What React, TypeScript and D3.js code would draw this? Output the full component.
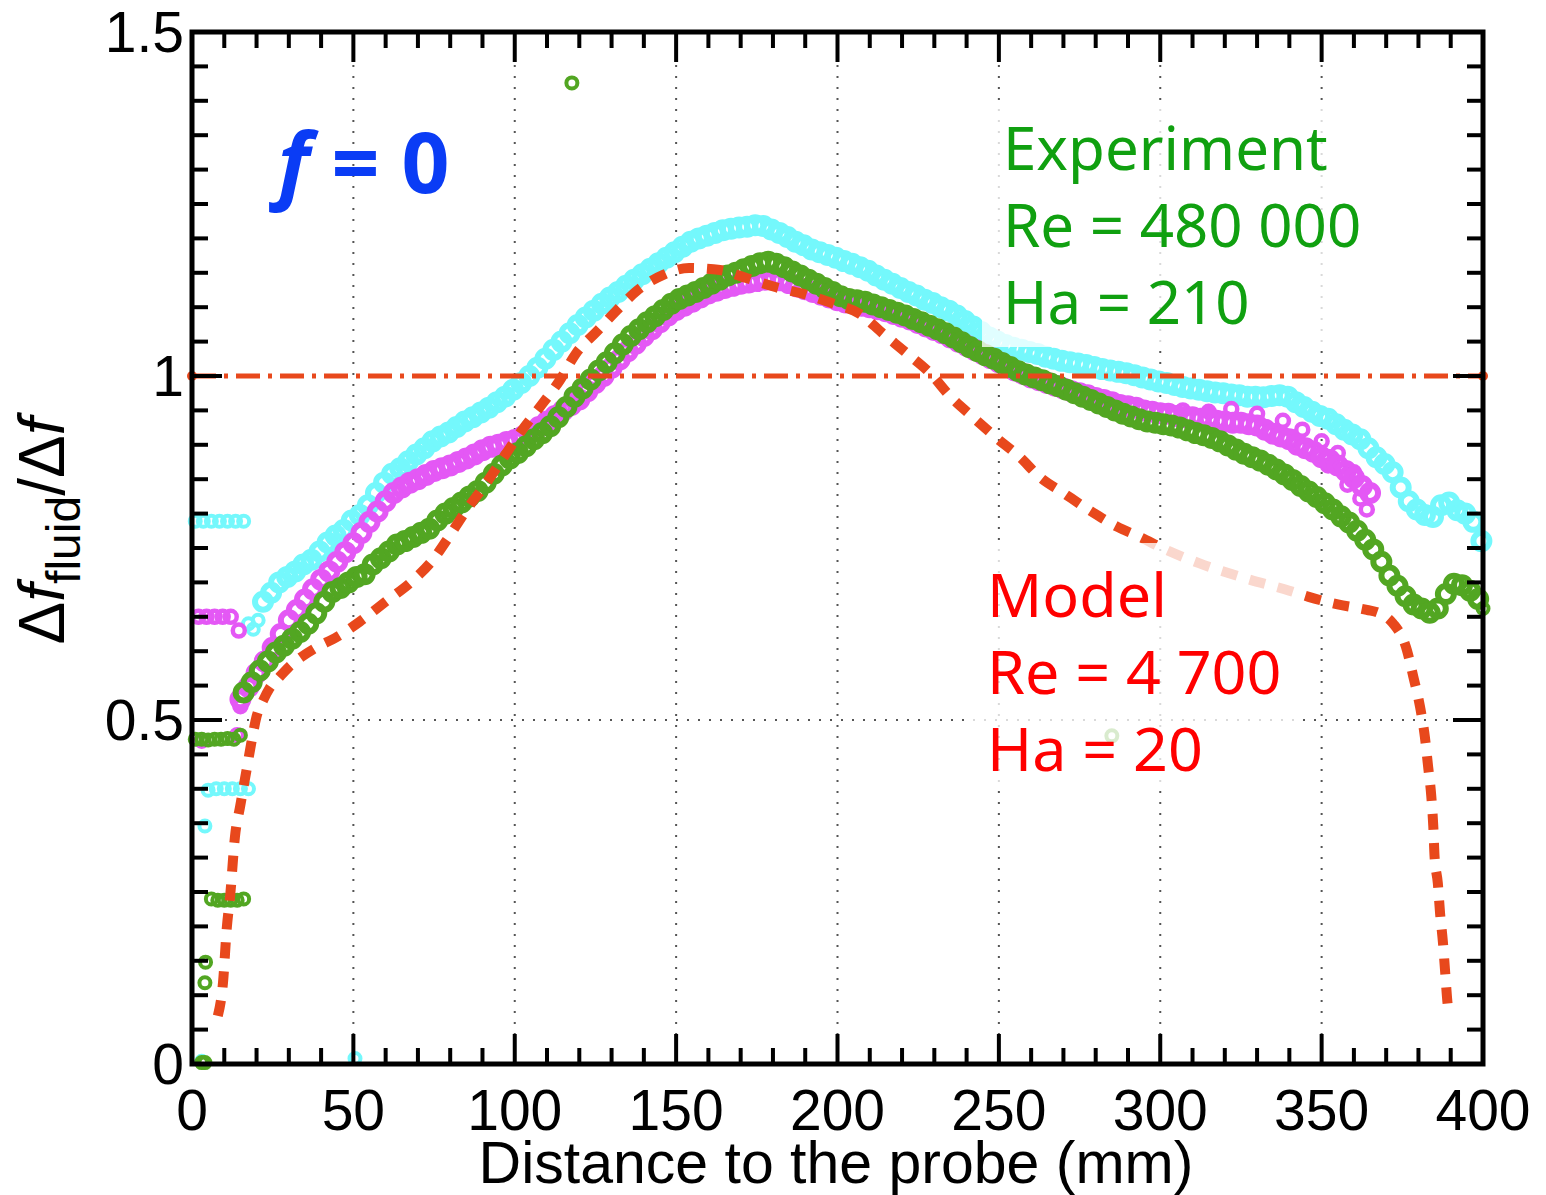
import React from 'react';
import * as d3 from 'd3';

// ---------- data ----------
const xTicks = [0, 50, 100, 150, 200, 250, 300, 350, 400];
const yTicks = [0, 0.5, 1, 1.5];
const yTickLabels = ['0', '0.5', '1', '1.5'];

const STEP = 2.5;
const greenStart = 16;
const greenValues = [
  .540,.555,.572,.585,.598,.608,.618,.628,.640,.655,.672,.686,.692,.700,.708,.712,.726,.735,.745,.755,
  .760,.766,.772,.778,.790,.800,.808,.816,.825,.833,.845,.858,.870,.880,.888,.898,.908,.917,.927,.940,
  .955,.970,.982,.995,1.008,1.020,1.033,1.046,1.058,1.068,1.078,1.087,1.096,1.105,1.112,1.117,1.122,1.128,
  1.134,1.140,1.146,1.150,1.155,1.160,1.164,1.166,1.163,1.158,1.152,1.146,1.140,1.134,1.128,1.122,1.116,
  1.112,1.110,1.108,1.104,1.100,1.096,1.092,1.088,1.083,1.078,1.073,1.068,1.062,1.056,1.049,1.042,1.036,
  1.030,1.025,1.019,1.013,1.007,1.002,.998,.994,.989,.985,.980,.975,.970,.965,.960,.955,.950,.945,.941,
  .937,.934,.932,.930,.928,.925,.921,.917,.914,.910,.905,.899,.893,.887,.882,.877,.871,.864,.857,.849,
  .840,.832,.824,.815,.806,.796,.787,.775,.762,.748,.730,.710,.695,.680,.668,.662,.656,.662,.683,.698,
  .696,.688,.676
];
const greenExtra: [number, number][] = [
  [400, .662], [117.7, 1.426],
  [1, .472], [3, .472], [5, .471], [7, .472], [9, .472], [11, .473], [13, .472], [15, .478],
  [6, .240], [8, .238], [10, .238], [12, .238], [14, .238], [16, .240],
  [4.2, .148], [4, .118], [3, .002], [4, .002],
  [285, .477]
];

const cyanStart = 22;
const cyanValues = [
  .672,.685,.700,.708,.716,.726,.733,.745,.758,.768,.776,.790,.798,.812,.830,.845,.858,.866,.876,.886,
  .895,.905,.912,.918,.926,.934,.940,.947,.954,.962,.970,.980,.990,1.000,1.012,1.025,1.038,1.050,1.062,
  1.074,1.085,1.095,1.105,1.114,1.122,1.131,1.140,1.148,1.156,1.164,1.172,1.180,1.188,1.195,1.200,1.204,
  1.208,1.212,1.214,1.216,1.217,1.219,1.218,1.213,1.208,1.202,1.195,1.190,1.184,1.180,1.176,1.172,1.167,
  1.163,1.158,1.153,1.146,1.140,1.134,1.128,1.122,1.117,1.111,1.106,1.100,1.095,1.088,1.080,1.072,1.064,
  1.056,1.050,1.045,1.041,1.038,1.035,1.032,1.028,1.025,1.022,1.020,1.018,1.016,1.013,1.010,1.008,1.006,
  1.004,1.001,.998,.995,.992,.990,.987,.984,.982,.980,.978,.976,.975,.973,.972,.970,.970,.969,.971,.972,
  .970,.962,.955,.948,.942,.938,.930,.922,.915,.908,.895,.882,.872,.860,.838,.818,.806,.798,.795,.812,
  .816,.805,.800,.788,.760
];
const cyanExtra: [number, number][] = [
  [1, .789], [3.5, .789], [6, .789], [8.5, .789], [11, .789], [13.5, .789], [16, .789],
  [5, .398], [7.5, .400], [10, .400], [12.5, .400], [15, .400], [17.5, .400],
  [4, .346], [50.5, .008], [3, .004],
  [17.5, .640], [19, .632], [20.5, .645]
];

const magentaStart = 15;
const magentaValues = [
  .530,.548,.568,.585,.605,.625,.645,.660,.675,.690,.704,.716,.730,.744,.757,.772,.788,.803,.818,.830,
  .838,.845,.850,.856,.862,.866,.870,.875,.880,.886,.892,.897,.900,.904,.907,.912,.918,.926,.934,.942,
  .950,.958,.966,.978,.990,1.000,1.012,1.024,1.036,1.047,1.058,1.068,1.078,1.088,1.096,1.102,1.108,1.114,
  1.120,1.124,1.128,1.131,1.134,1.136,1.138,1.140,1.140,1.139,1.135,1.130,1.126,1.122,1.118,1.114,1.110,
  1.107,1.105,1.102,1.100,1.097,1.094,1.090,1.086,1.082,1.077,1.072,1.067,1.062,1.056,1.050,1.044,1.038,
  1.032,1.026,1.020,1.014,1.008,1.003,.998,.994,.990,.986,.982,.978,.975,.972,.968,.965,.962,.958,.956,
  .954,.950,.948,.946,.945,.942,.940,.940,.938,.938,.935,.934,.932,.932,.930,.928,.922,.916,.912,.908,
  .900,.895,.890,.882,.878,.870,.862,.852,.840,.830
];
const magentaExtra: [number, number][] = [
  [2, .650], [4.5, .650], [7, .650], [9.5, .650], [12, .650], [14.5, .630],
  [15, .520], [14, .478], [3, .470],
  [307, .950], [315, .948], [322, .952], [330, .945], [338, .935], [344, .922], [350, .905],
  [355, .888], [358, .842], [362, .822], [364, .806], [360, .860], [352, .870]
];

const modelX = [8, 9.6, 10.8, 11.8, 13.3, 14.9, 17, 18.5, 20, 22, 24, 27, 30, 34, 38, 45, 52, 60, 68.5, 75,
  79, 85, 91, 97, 101.6, 108.8, 114, 119, 125.5, 131.7, 137.9, 146, 154, 163.6, 172, 181, 190.5, 198.7, 207,
  214, 221.5, 228.7, 235, 242, 249, 256.5, 262.7, 270, 278, 286.6, 293.7, 302, 312, 327, 340, 346, 355, 364,
  368, 372, 376.4, 378.4, 380.5, 382, 383, 384, 384.6, 385, 386, 386.7, 387.6, 388.3, 389, 389.5];
const modelY = [.07, .118, .199, .243, .33, .374, .43, .47, .505, .528, .546, .562, .577, .592, .604, .621,
  .643, .672, .703, .735, .762, .805, .843, .885, .917, .961, .994, 1.033, 1.065, 1.096, 1.124, 1.147, 1.157,
  1.154, 1.142, 1.129, 1.118, 1.105, 1.090, 1.062, 1.033, 1.004, .970, .940, .911, .882, .853, .830, .805,
  .781, .766, .747, .728, .705, .688, .679, .668, .660, .655, .641, .602, .563, .519, .475, .432, .388, .345,
  .301, .263, .219, .176, .132, .089, .072];

const expLines = ['Experiment', 'Re = 480 000', 'Ha = 210'];
const modelLines = ['Model', 'Re = 4 700', 'Ha = 20'];

// ---------- styles ----------
const CYAN = '#74f8fc';
const MAGENTA = '#e458f5';
const GREEN = '#52a622';
const RED = '#e8481c';

export default function App() {
  const x = d3.scaleLinear().domain([0, 400]).range([192, 1483]);
  const y = d3.scaleLinear().domain([0, 1.5]).range([1064, 32]);

  const toPts = (start: number, vals: number[]) => vals.map((v, i) => [start + i * STEP, v] as [number, number]);

  const modelPts = modelX.map((v, i) => [v, modelY[i]] as [number, number]);
  const line = d3.line<[number, number]>().x(d => x(d[0])).y(d => y(d[1])).curve(d3.curveMonotoneX);

  const minorX = d3.range(0, 401, 10).filter(v => v % 50 !== 0);
  const minorY = d3.range(0, 31).map(i => i * 0.05).filter((_, i) => i % 10 !== 0);
  const [x0, x1] = x.range();
  const [yb, yt] = y.range();
  const MAJ = 30, MIN = 16;

  const marks = (pts: [number, number][], color: string, r: number, sw: number) =>
    pts.map((d, i) => (
      <circle key={i} cx={x(d[0])} cy={y(d[1])} r={r} fill="none" stroke={color} strokeWidth={sw} />
    ));

  return (
    <svg width={1546} height={1195} style={{ position: 'absolute', left: 0, top: 0, background: '#fff' }}
      fontFamily="'Liberation Sans', Arial, sans-serif">
      <rect x={0} y={0} width={1546} height={1195} fill="#fff" />
      {/* grid */}
      <g stroke="#555" strokeWidth={2} strokeDasharray="2 9">
        {xTicks.slice(1, -1).map(v => <line key={v} x1={x(v)} x2={x(v)} y1={yt} y2={yb} />)}
        <line x1={x0} x2={x1} y1={y(0.5)} y2={y(0.5)} />
      </g>
      {/* data */}
      <g>{marks(cyanExtra, CYAN, 5.5, 4)}{marks(toPts(cyanStart, cyanValues), CYAN, 8, 6)}</g>
      <g>{marks(magentaExtra, MAGENTA, 6, 4.5)}{marks(toPts(magentaStart, magentaValues), MAGENTA, 8, 6)}</g>
      <g>{marks(greenExtra, GREEN, 5.5, 4)}{marks(toPts(greenStart, greenValues), GREEN, 8, 6)}</g>
      {/* model */}
      <path d={line(modelPts) || ''} fill="none" stroke={RED} strokeWidth={10} strokeDasharray="16 13" />
      {/* reference line at 1 */}
      <line x1={x0} x2={x1} y1={y(1)} y2={y(1)} stroke={RED} strokeWidth={5} strokeDasharray="24 8 4 8" />
      <circle cx={x0} cy={y(1)} r={5} fill={RED} />
      <circle cx={x1} cy={y(1)} r={5} fill={RED} />
      {/* text boxes */}
      <rect x={982} y={100} width={400} height={247} fill="#fff" opacity={0.78} />
      <rect x={967} y={543} width={333} height={247} fill="#fff" opacity={0.78} />
      {/* frame & ticks */}
      <g stroke="#000" strokeWidth={4}>
        {xTicks.map(v => <g key={'xm' + v}>
          <line x1={x(v)} x2={x(v)} y1={yb} y2={yb - MAJ} />
          <line x1={x(v)} x2={x(v)} y1={yt} y2={yt + MAJ} />
        </g>)}
        {minorX.map(v => <g key={'xn' + v}>
          <line x1={x(v)} x2={x(v)} y1={yb} y2={yb - MIN} />
          <line x1={x(v)} x2={x(v)} y1={yt} y2={yt + MIN} />
        </g>)}
        {yTicks.map(v => <g key={'ym' + v}>
          <line x1={x0} x2={x0 + MAJ} y1={y(v)} y2={y(v)} />
          <line x1={x1} x2={x1 - MAJ} y1={y(v)} y2={y(v)} />
        </g>)}
        {minorY.map(v => <g key={'yn' + v}>
          <line x1={x0} x2={x0 + MIN} y1={y(v)} y2={y(v)} />
          <line x1={x1} x2={x1 - MIN} y1={y(v)} y2={y(v)} />
        </g>)}
      </g>
      <rect x={x0} y={yt} width={x1 - x0} height={yb - yt} fill="none" stroke="#000" strokeWidth={5} />
      {/* tick labels */}
      <g fontSize={57} fill="#000">
        {xTicks.map(v => <text key={v} x={x(v)} y={1130} textAnchor="middle">{v}</text>)}
        {yTicks.map((v, i) => <text key={v} x={184} y={y(v) + 20} textAnchor="end">{yTickLabels[i]}</text>)}
      </g>
      <text x={836} y={1183} fontSize={59} textAnchor="middle">Distance to the probe (mm)</text>
      <text transform="translate(64,531) rotate(-90)" fontSize={64} textAnchor="middle">
        Δ<tspan fontStyle="italic">f</tspan><tspan fontSize={48} dy={16}>fluid</tspan><tspan dy={-16}>/Δ</tspan><tspan fontStyle="italic">f</tspan>
      </text>
      {/* annotations */}
      <text x={278} y={193} fontSize={84} fontWeight="bold" fill="#0a3cf5" fontFamily="'Noto Sans', sans-serif">
        <tspan fontStyle="italic">f</tspan><tspan dx={22}>=</tspan><tspan dx={22}>0</tspan>
      </text>
      <g fontFamily="'Noto Sans', sans-serif" fontSize={60} fill="#10a010">
        {expLines.map((t, i) => <text key={t} x={1003} y={170 + i * 77} xmlSpace="preserve">{t}</text>)}
      </g>
      <g fontFamily="'Noto Sans', sans-serif" fontSize={61} fill="#ff0000">
        {modelLines.map((t, i) => <text key={t} x={987} y={617 + i * 77} xmlSpace="preserve">{t}</text>)}
      </g>
    </svg>
  );
}
